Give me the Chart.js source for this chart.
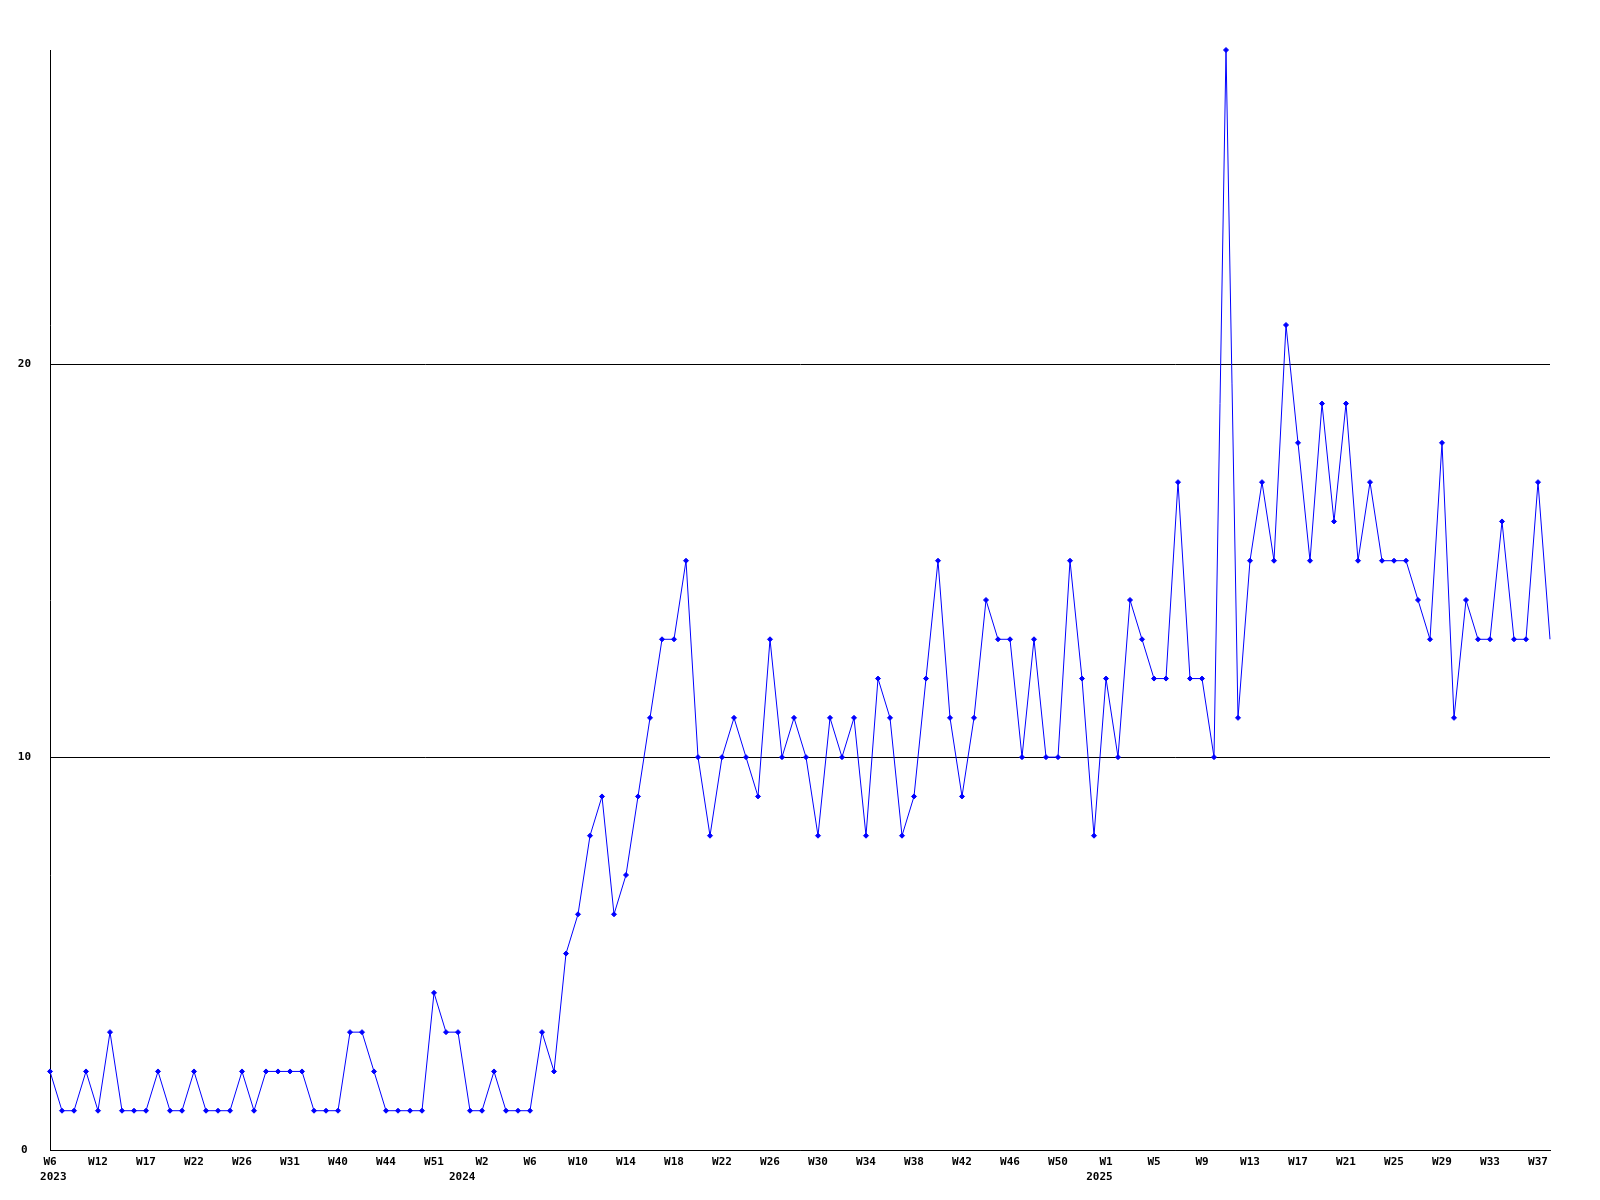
<!DOCTYPE html>
<html>
<head>
<meta charset="utf-8">
<script src="https://cdn.jsdelivr.net/npm/chart.js@4/dist/chart.umd.min.js"></script>
<style>
  html, body { margin: 0; padding: 0; background: #ffffff; }
  #wrap { width: 1600px; height: 1200px; position: relative; }
  canvas { display: block; background: #ffffff; }
</style>
</head>
<body>
<div id="wrap"><canvas id="c" width="1600" height="1200"></canvas></div>
<script>
// Weekly values, one per data point (126 points)
const values = [
  2, 1, 1, 2, 1, 3, 1, 1, 1, 2,
  1, 1, 2, 1, 1, 1, 2, 1, 2, 2,
  2, 2, 1, 1, 1, 3, 3, 2, 1, 1,
  1, 1, 4, 3, 3, 1, 1, 2, 1, 1,
  1, 3, 2, 5, 6, 8, 9, 6, 7, 9,
  11, 13, 13, 15, 10, 8, 10, 11, 10, 9,
  13, 10, 11, 10, 8, 11, 10, 11, 8, 12,
  11, 8, 9, 12, 15, 11, 9, 11, 14, 13,
  13, 10, 13, 10, 10, 15, 12, 8, 12, 10,
  14, 13, 12, 12, 17, 12, 12, 10, 28, 11,
  15, 17, 15, 21, 18, 15, 19, 16, 19, 15,
  17, 15, 15, 15, 14, 13, 18, 11, 14, 13,
  13, 16, 13, 13, 17, 13
];

// Tick labels shown every 4th point
const tickLabels = [
  'W6', 'W12', 'W17', 'W22', 'W26', 'W31', 'W40', 'W44', 'W51',
  'W2', 'W6', 'W10', 'W14', 'W18', 'W22', 'W26', 'W30', 'W34', 'W38', 'W42', 'W46', 'W50',
  'W1', 'W5', 'W9', 'W13', 'W17', 'W21', 'W25', 'W29', 'W33', 'W37'
];
// Year shown under the tick with this tick index
const yearTickIndex = [0, 9, 22];
const yearLabels = ['2023', '2024', '2025'];
// Monospace padding so the year text sits slightly off-centre as in the original
const yearPadLeft = [1, 0, 0];
const yearPadRight = [0, 6, 2];

const yTickValues = [0, 10, 20];
const yMin = 0;
const yMax = 28;
const tickEvery = 4;

const categories = values.map((v, i) => {
  if (i % tickEvery !== 0) return '';
  const t = i / tickEvery;
  const yi = yearTickIndex.indexOf(t);
  const lbl = tickLabels[t] || '';
  if (yi < 0) return lbl;
  const yr = ' '.repeat(yearPadLeft[yi]) + yearLabels[yi] + ' '.repeat(yearPadRight[yi]);
  return [lbl, yr];
});

const FONT = { family: '"DejaVu Sans Mono", "Liberation Mono", monospace', size: 11, weight: 'bold', lineHeight: 1.4 };
const lastIndex = values.length - 1;

new Chart(document.getElementById('c'), {
  type: 'line',
  data: {
    labels: categories,
    datasets: [{
      data: values,
      borderColor: '#0000ff',
      backgroundColor: '#0000ff',
      borderWidth: 1,
      tension: 0,
      fill: false,
      clip: false,
      pointStyle: 'rectRot',
      pointRadius: (ctx) => ctx.dataIndex === lastIndex ? 0 : 2.5,
      pointBorderWidth: 1,
      pointBackgroundColor: '#0000ff',
      pointBorderColor: '#0000ff'
    }]
  },
  options: {
    responsive: false,
    animation: false,
    devicePixelRatio: 1,
    layout: { padding: { top: 50, right: 50, left: 0, bottom: 0 } },
    plugins: { legend: { display: false }, tooltip: { enabled: false }, title: { display: false } },
    scales: {
      x: {
        type: 'category',
        offset: false,
        grid: { display: false, drawTicks: false },
        border: { display: true, color: '#000000', width: 1 },
        ticks: {
          autoSkip: false,
          maxRotation: 0,
          minRotation: 0,
          padding: 4,
          color: '#000000',
          font: FONT
        },
        afterFit: (s) => { s.height = 50; }
      },
      y: {
        type: 'linear',
        min: yMin,
        max: yMax,
        grid: { display: true, color: '#000000', lineWidth: 1, drawTicks: false },
        border: { display: true, color: '#000000', width: 1 },
        ticks: {
          stepSize: 10,
          includeBounds: false,
          crossAlign: 'center',
          padding: 19,
          color: '#000000',
          font: FONT
        },
        afterBuildTicks: (s) => { s.ticks = yTickValues.map(v => ({ value: v })); },
        afterFit: (s) => { s.width = 50; }
      }
    }
  }
});
</script>
</body>
</html>
